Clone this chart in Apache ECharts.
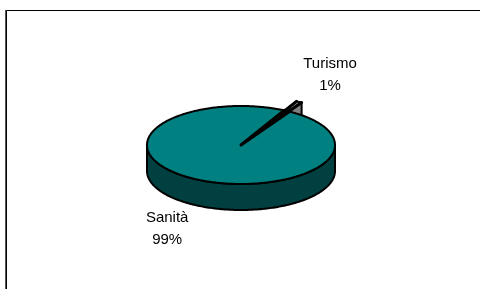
<!DOCTYPE html>
<html>
<head>
<meta charset="utf-8">
<script src="https://cdn.jsdelivr.net/npm/echarts@6/dist/echarts.min.js"></script>
<style>
  html, body { margin: 0; padding: 0; background: #fff; }
  #chart { width: 480px; height: 289px; }
</style>
</head>
<body>
<div id="chart"></div>
<script>
// data
var categories = ['Sanità', 'Turismo'];
var values = [99, 1];

// look of the 3d pie (Excel style)
var topColors = ['#008080', '#969696'];
var wallColors = ['#004040', '#808080'];
var explodeBy = { 'Turismo': 25 };
var cx = 241, cy = 145, R = 94, K = 39 / 94, DEPTH = 26, START = 31;

var total = values.reduce(function (a, b) { return a + b }, 0);

function pt(ox, oy, r, deg, dz) {
  var a = deg * Math.PI / 180;
  return [ox + r * Math.sin(a), oy - K * r * Math.cos(a) + (dz || 0)];
}

function slice(i) {
  var before = 0;
  for (var j = 0; j < i; j++) before += values[j];
  var a0 = START + before / total * 360;
  var a1 = a0 + values[i] / total * 360;
  var mid = (a0 + a1) / 2;
  var d = explodeBy[categories[i]] || 0;
  var o = pt(cx, cy, d, mid);
  return { a0: a0, a1: a1, mid: mid, ox: o[0], oy: o[1] };
}

function arc(s, from, to, dz) {
  var pts = [];
  var n = Math.max(2, Math.ceil(Math.abs(to - from)));
  for (var k = 0; k <= n; k++) {
    pts.push(pt(s.ox, s.oy, R, from + (to - from) * k / n, dz));
  }
  return pts;
}

function poly(points, fill) {
  return {
    type: 'polygon',
    shape: { points: points },
    style: { fill: fill, stroke: '#000', lineWidth: 2, lineJoin: 'round' }
  };
}

function renderWalls(params, api) {
  var i = params.dataIndex;
  var s = slice(i);
  var children = [];
  var sin = function (deg) { return Math.sin(deg * Math.PI / 180) };
  // radial cut faces that look towards the viewer
  [[s.a0, sin(s.a0) < 0], [s.a1, sin(s.a1) > 0]].forEach(function (w) {
    if (!w[1]) return;
    var rim = pt(s.ox, s.oy, R, w[0]);
    children.push(poly([
      [s.ox, s.oy], rim, [rim[0], rim[1] + DEPTH], [s.ox, s.oy + DEPTH]
    ], wallColors[i]));
  });
  // outer wall, front half only
  for (var k = 0; k < 2; k++) {
    var lo = Math.max(s.a0, 90 + 360 * k);
    var hi = Math.min(s.a1, 270 + 360 * k);
    if (hi > lo) {
      var top = arc(s, lo, hi, 0);
      var bottom = arc(s, hi, lo, DEPTH);
      children.push(poly(top.concat(bottom), wallColors[i]));
    }
  }
  return { type: 'group', children: children };
}

function renderTops(params, api) {
  var i = params.dataIndex;
  var s = slice(i);
  var pts = [[s.ox, s.oy]].concat(arc(s, s.a0, s.a1, 0));
  var a = s.mid * Math.PI / 180;
  var anchor = pt(s.ox, s.oy, R, s.mid, Math.cos(a) < 0 ? DEPTH : 0);
  var lx = anchor[0] + (Math.sin(a) >= 0 ? 31 : -28);
  var ly = anchor[1] + (Math.cos(a) >= 0 ? -27 : 24);
  var pct = Math.round(api.value(0) / total * 100) + '%';
  return {
    type: 'group',
    children: [
      poly(pts, topColors[i]),
      {
        // the radial edges come out heavier in the original
        type: 'polyline',
        shape: { points: [pt(s.ox, s.oy, R, s.a0), [s.ox, s.oy], pt(s.ox, s.oy, R, s.a1)] },
        style: { fill: 'none', stroke: '#000', lineWidth: 3, lineJoin: 'round', lineCap: 'round' }
      },
      {
        type: 'text',
        x: lx, y: ly,
        style: {
          text: categories[i] + '\n' + pct,
          fill: '#000',
          fontSize: 15,
          fontFamily: '"Liberation Sans", Arial, sans-serif',
          align: 'center',
          verticalAlign: 'middle',
          lineHeight: 22
        }
      }
    ]
  };
}

var seriesData = values.map(function (v, i) {
  return { name: categories[i], value: [v] };
});

var chart = echarts.init(document.getElementById('chart'));
chart.setOption({
  animation: false,
  backgroundColor: '#fff',
  graphic: [
    {
      type: 'rect',
      shape: { x: 6.5, y: 10.5, width: 500, height: 300 },
      style: { fill: 'none', stroke: '#000', lineWidth: 1 }
    },
    {
      type: 'line',
      shape: { x1: 5.5, y1: 10, x2: 5.5, y2: 300 },
      style: { stroke: '#555', lineWidth: 1 }
    }
  ],
  series: [
    {
      name: 'walls',
      type: 'custom',
      coordinateSystem: 'none',
      silent: true,
      z: 1,
      renderItem: renderWalls,
      data: seriesData
    },
    {
      name: 'tops',
      type: 'custom',
      coordinateSystem: 'none',
      silent: true,
      z: 2,
      renderItem: renderTops,
      data: seriesData
    }
  ]
});
</script>
</body>
</html>
